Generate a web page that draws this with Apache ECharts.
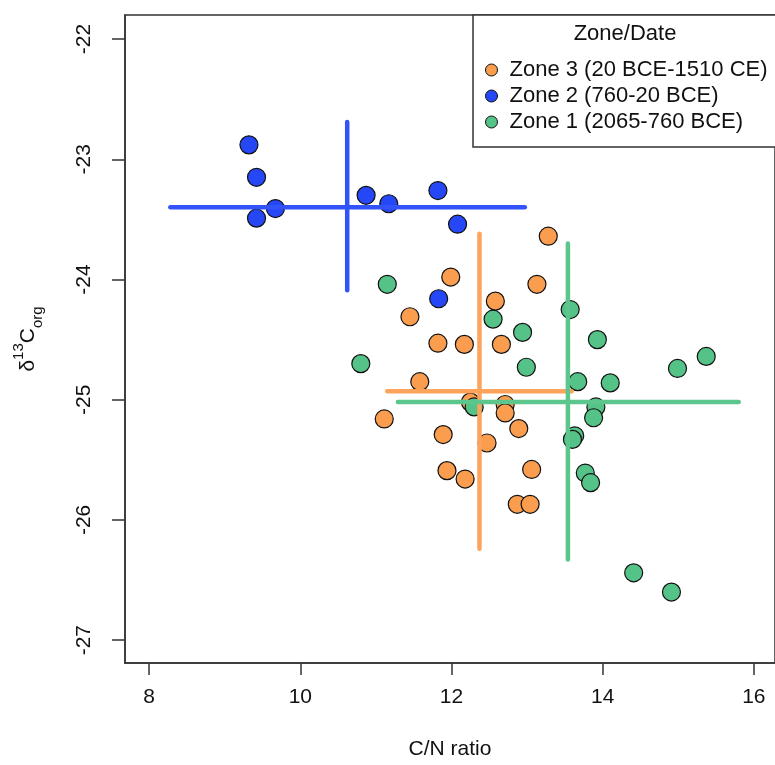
<!DOCTYPE html>
<html>
<head>
<meta charset="utf-8">
<script src="https://cdn.jsdelivr.net/npm/echarts@6/dist/echarts.min.js"></script>
<style>
html,body{margin:0;padding:0;background:#fff;}
#chart{width:775px;height:765px;}
</style>
</head>
<body>
<div id="chart"></div>
<script>
// ---- data ----
const seriesNames = ['Zone 3 (20 BCE-1510 CE)', 'Zone 2 (760-20 BCE)', 'Zone 1 (2065-760 BCE)'];
const seriesColors = ['#FA9D4E', '#2647F5', '#55C287'];
const lineColors = ['#FDA35B', '#3253FA', '#5CC68C'];

const zone3CN   = [13.28, 11.99, 13.13, 12.58, 11.45, 11.82, 12.17, 12.66, 11.58, 11.11, 12.25, 12.71, 12.71, 12.89, 11.89, 12.47, 11.94, 12.18, 13.06, 12.87, 13.04];
const zone3D13C = [-23.64, -23.98, -24.04, -24.18, -24.31, -24.53, -24.54, -24.54, -24.85, -25.16, -25.02, -25.04, -25.11, -25.24, -25.29, -25.36, -25.59, -25.66, -25.58, -25.87, -25.87];

const zone2CN   = [9.32, 9.42, 9.42, 9.67, 10.87, 11.17, 11.82, 12.08, 11.83];
const zone2D13C = [-22.88, -23.15, -23.49, -23.41, -23.30, -23.37, -23.26, -23.54, -24.16];

const zone1CN   = [11.15, 12.55, 12.94, 12.99, 10.80, 13.57, 12.30, 13.93, 13.67, 14.10, 14.99, 15.37, 13.91, 13.88, 13.63, 13.60, 13.77, 13.84, 14.41, 14.91];
const zone1D13C = [-24.04, -24.33, -24.44, -24.73, -24.70, -24.25, -25.06, -24.50, -24.85, -24.86, -24.74, -24.64, -25.06, -25.15, -25.30, -25.33, -25.61, -25.69, -26.44, -26.60];

// crosses (zone 3, zone 2, zone 1): centre and extents
const crossMeanCN    = [12.37, 10.62, 13.54];
const crossMeanD13C  = [-24.93, -23.40, -25.02];
const crossCNLow     = [11.15, 8.28, 11.29];
const crossCNHigh    = [13.59, 12.97, 15.80];
const crossD13CLow   = [-26.24, -24.09, -26.33];
const crossD13CHigh  = [-23.62, -22.69, -23.70];

const xTicks = [8, 10, 12, 14, 16];
const yTicks = [-27, -26, -25, -24, -23, -22];

// ---- chart ----
const FONT = '"Liberation Sans", Arial, Helvetica, sans-serif';
const pts = [[zone3CN, zone3D13C], [zone2CN, zone2D13C], [zone1CN, zone1D13C]];

const series = [];
pts.forEach(function (p, i) {
  series.push({
    name: seriesNames[i],
    type: 'scatter',
    symbol: 'circle',
    symbolSize: 18,
    z: 2 + i * 0.1,
    itemStyle: { color: seriesColors[i], borderColor: '#111', borderWidth: 1.2, opacity: 1 },
    emphasis: { disabled: true },
    data: p[0].map(function (x, k) { return [x, p[1][k]]; })
  });
});
for (let i = 0; i < 3; i++) {
  const ls = { color: lineColors[i], width: 4.5, cap: 'round' };
  series.push({
    type: 'line', symbol: 'none', z: 5, silent: true, lineStyle: ls,
    data: [[crossCNLow[i], crossMeanD13C[i]], [crossCNHigh[i], crossMeanD13C[i]]]
  });
  series.push({
    type: 'line', symbol: 'none', z: 5, silent: true, lineStyle: ls,
    data: [[crossMeanCN[i], crossD13CLow[i]], [crossMeanCN[i], crossD13CHigh[i]]]
  });
}

const chart = echarts.init(document.getElementById('chart'), null, { renderer: 'canvas' });
chart.setOption({
  animation: false,
  backgroundColor: '#fff',
  textStyle: { fontFamily: FONT },
  grid: {
    left: 125, right: -3, top: 15, bottom: 102,
    show: true, borderColor: '#333', borderWidth: 1.5, backgroundColor: 'transparent'
  },
  xAxis: {
    type: 'value', min: 7.68, max: 16.28,
    name: 'C/N ratio', nameLocation: 'middle', nameGap: 76,
    nameTextStyle: { fontSize: 21, color: '#111', fontFamily: FONT },
    axisLine: { show: true, lineStyle: { color: '#333', width: 1.5 } },
    axisTick: { show: true, length: 12, customValues: xTicks, lineStyle: { color: '#333', width: 1.5 } },
    axisLabel: { customValues: xTicks, fontSize: 21, color: '#111', margin: 24, fontFamily: FONT },
    splitLine: { show: false }
  },
  yAxis: {
    type: 'value', min: -27.19, max: -21.8,
    name: '{d|δ}{sup|13}{c|C}{sub|org}', nameLocation: 'middle', nameGap: 80, nameRotate: 90,
    nameTextStyle: {
      color: '#111', fontFamily: FONT,
      rich: {
        d: { fontSize: 21, lineHeight: 34, verticalAlign: 'middle', fontFamily: FONT, color: '#111' },
        c: { fontSize: 21, lineHeight: 34, verticalAlign: 'middle', fontFamily: FONT, color: '#111' },
        sup: { fontSize: 15, lineHeight: 18, verticalAlign: 'top', fontFamily: FONT, color: '#111' },
        sub: { fontSize: 15, lineHeight: 18, verticalAlign: 'bottom', fontFamily: FONT, color: '#111' }
      }
    },
    axisLine: { show: true, lineStyle: { color: '#333', width: 1.5 } },
    axisTick: { show: true, length: 13, customValues: yTicks, lineStyle: { color: '#333', width: 1.5 } },
    axisLabel: { customValues: yTicks, rotate: 90, fontSize: 21, color: '#111', margin: 30, fontFamily: FONT },
    splitLine: { show: false }
  },
  legend: {
    data: seriesNames,
    orient: 'vertical',
    left: 480, top: 54,
    itemWidth: 26, itemHeight: 12, itemGap: 4,
    icon: 'circle',
    z: 20,
    selectedMode: false,
    itemStyle: { borderColor: '#111', borderWidth: 1 },
    textStyle: { fontSize: 22, color: '#111', fontFamily: FONT }
  },
  graphic: [
    { type: 'rect', z: 10, silent: true,
      shape: { x: 473, y: 15, width: 320, height: 132 },
      style: { fill: '#fff', stroke: '#333', lineWidth: 1.5 } },
    { type: 'text', z: 21, silent: true, x: 625, y: 34,
      style: { text: 'Zone/Date', fontSize: 22, fontFamily: FONT, fill: '#111', align: 'center', verticalAlign: 'middle' } }
  ],
  series: series
});
</script>
</body>
</html>
